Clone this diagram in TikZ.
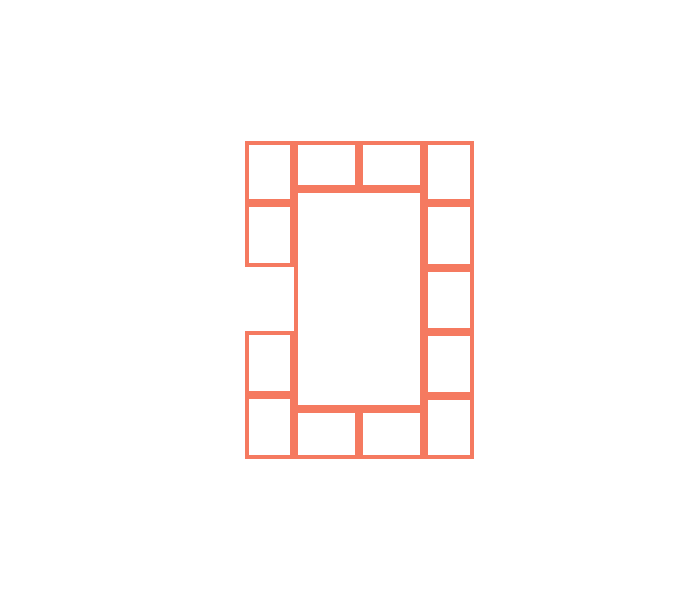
\documentclass[tikz,border=0pt]{standalone}
\usepackage{tikz}
\usetikzlibrary{positioning}
\definecolor{tilered}{RGB}{245,122,96}

\begin{document}
\begin{tikzpicture}[
  x=1pt, y=-1pt,
  tile/.style={draw=tilered, line width=3.6pt, inner sep=0pt, outer sep=0pt,
               anchor=north west},
]
\useasboundingbox[fill=white] (0,0) rectangle (686,589);
% left column (one tile left out)
\node[tile, minimum width=45.4, minimum height=58.4] (l1) at (246.8,142.8) {};
\node[tile, minimum width=45.4, minimum height=60.4] (l2) at (246.8,204.8) {};
\node[tile, minimum width=45.4, minimum height=60.4] (l3) at (246.8,332.8) {};
\node[tile, minimum width=45.4, minimum height=60.4] (l4) at (246.8,396.8) {};
% top and bottom rows
\node[tile, minimum width=61.4, minimum height=44.4] (t1) at (295.8,142.8) {};
\node[tile, minimum width=61.4, minimum height=44.4] (t2) at (360.8,142.8) {};
\node[tile, minimum width=61.4, minimum height=46.4] (b1) at (295.8,410.8) {};
\node[tile, minimum width=61.4, minimum height=46.4] (b2) at (360.8,410.8) {};
% right column
\node[tile, minimum width=46.4, minimum height=58.4] (r1) at (425.8,142.8) {};
\node[tile, minimum width=46.4, minimum height=61.4] (r2) at (425.8,204.8) {};
\node[tile, minimum width=46.4, minimum height=60.4] (r3) at (425.8,269.8) {};
\node[tile, minimum width=46.4, minimum height=60.4] (r4) at (425.8,333.8) {};
\node[tile, minimum width=46.4, minimum height=59.4] (r5) at (425.8,397.8) {};
% centre
\node[tile, minimum width=126.4, minimum height=216.4] (centre) at (295.8,190.8) {};
\end{tikzpicture}
\end{document}
